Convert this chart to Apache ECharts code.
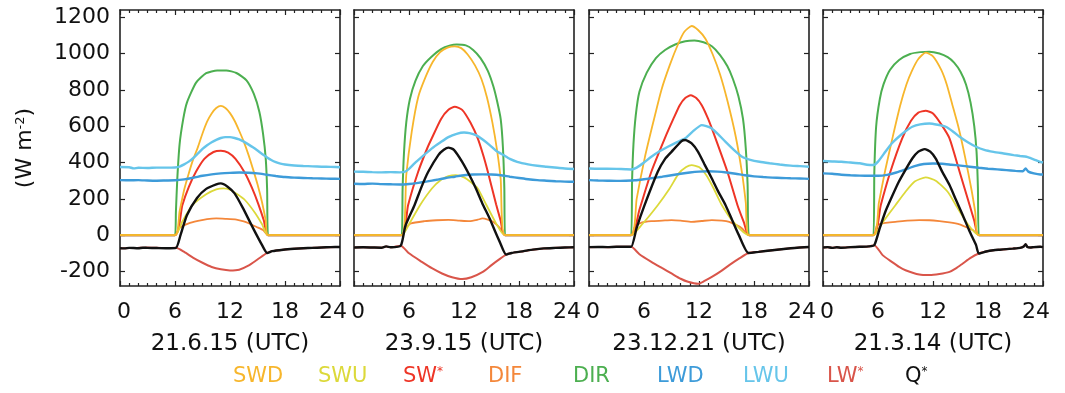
<!DOCTYPE html>
<html>
<head>
<meta charset="utf-8">
<script src="https://cdn.jsdelivr.net/npm/echarts@6/dist/echarts.min.js"></script>
<style>
  html, body { margin: 0; background: #fff; }
  #chart { width: 1065px; height: 393px; }
</style>
</head>
<body>
<div id="chart"></div>
<script>
// values, [hour UTC, W m-2]
const panelTitles = ["21.6.15 (UTC)", "23.9.15 (UTC)", "23.12.21 (UTC)", "21.3.14 (UTC)"];
const seriesNames = ["SWD", "SWU", "SW*", "DIF", "DIR", "LWD", "LWU", "LW*", "Q*"];
const yTicks = [-200, 0, 200, 400, 600, 800, 1000, 1200];

// 21.6.15
const swd1 = [[0,0],[6.0,0],[6.5,130],[7.0,250],[7.5,340],[8.0,420],[8.5,485],[9.0,560],[9.5,625],[10.0,670],[10.5,700],[11.0,712],[11.5,700],[12.0,672],[12.5,630],[13.0,575],[13.5,515],[14.0,445],[14.5,365],[15.0,280],[15.5,180],[15.9,80],[16.15,0],[24,0]];
const swu1 = [[0,0],[6.0,0],[6.8,75],[7.9,165],[9.4,225],[10.5,252],[11.3,258],[12,250],[12.8,225],[13.6,195],[14.7,125],[15.5,60],[16.15,0],[24,0]];
const sw1 = [[0,0],[6.0,0],[6.8,165],[7.5,265],[8.3,350],[9.2,420],[10.2,458],[11.0,465],[11.8,455],[12.6,420],[13.6,345],[14.4,260],[15.1,170],[15.7,80],[16.15,0],[24,0]];
const dif1 = [[0,0],[6.0,0],[6.5,40],[7.5,65],[8.5,78],[9.5,88],[10.5,92],[11.5,90],[12.7,86],[13.5,76],[14.1,64],[14.9,45],[15.6,28],[16.15,0],[24,0]];
const dir1 = [[0,0],[6.0,0],[6.1,130],[6.25,310],[6.5,500],[6.9,640],[7.3,730],[8.3,840],[9.4,892],[10.6,907],[11.6,907],[12.7,893],[13.8,853],[14.6,778],[15.2,680],[15.6,560],[15.9,420],[16.05,250],[16.15,0],[24,0]];
const lwd1 = [[0,303],[1,302],[2,303],[3,301],[4,300],[5,301],[6,302],[7,307],[8,316],[9,327],[10,335],[11,340],[12,343],[13,345],[14,344],[15,340],[16,333],[17,326],[18,320],[19,317],[20,315],[21,313],[22,312],[23,311],[24,310]];
const lwu1 = [[0,375],[1,374],[1.5,368],[2,371],[3,370],[4,372],[5,372],[6,373],[6.5,378],[7,390],[7.5,405],[8,425],[8.5,450],[9,475],[9.5,495],[10,512],[10.5,525],[11,535],[11.5,540],[12,540],[12.5,535],[13,527],[13.5,515],[14,500],[14.5,484],[15,466],[15.5,447],[16,430],[16.5,414],[17,402],[17.5,394],[18,389],[19,384],[20,381],[21,379],[22,377],[23,376],[24,374]];
const lws1 = [[0,-72],[1,-71],[2,-70],[3,-68],[4,-70],[5,-71],[6.1,-70],[7,-92],[8,-125],[9,-152],[10,-175],[11,-188],[12,-194],[13,-190],[14,-168],[15,-134],[16.05,-98],[16.6,-88],[17.8,-80],[19,-75],[20,-72],[21,-70],[22,-68],[23,-66],[24,-65]];
const qs1 = [[0,-72],[0.5,-73],[1,-70],[2,-72],[2.5,-69],[3,-70],[4,-71],[5,-72],[6.1,-70],[6.6,0],[7.3,110],[8.4,205],[9.4,255],[10.5,280],[11.0,285],[11.7,268],[12.5,230],[13.4,150],[14.5,40],[15.5,-55],[16.05,-98],[16.6,-88],[17.8,-80],[19,-75],[20,-72],[21,-70],[22,-68],[23,-66],[24,-65]];

// 23.9.15
const swd2 = [[0,0],[5.2,0],[5.7,330],[6.3,570],[7.0,760],[7.8,870],[8.6,955],[9.4,1008],[10.2,1033],[11.0,1040],[11.7,1030],[12.4,995],[13.2,935],[13.9,860],[14.5,760],[15.1,620],[15.6,470],[16.0,310],[16.45,0],[24,0]];
const swu2 = [[0,0],[5.2,0],[6.0,60],[7.2,165],[8.5,257],[9.5,305],[10.3,325],[11.1,331],[12,318],[12.8,290],[13.5,257],[14.4,170],[15.5,65],[16.45,0],[24,0]];
const sw2 = [[0,0],[5.2,0],[5.9,165],[7.0,349],[8.0,480],[8.5,535],[9.5,640],[10.3,690],[11.0,707],[11.8,690],[12.7,620],[13.5,533],[14.1,440],[14.6,349],[15.5,170],[16.0,80],[16.45,0],[24,0]];
const dif2 = [[0,0],[5.2,0],[5.6,35],[6.2,64],[7.7,77],[9,82],[10.3,84],[11.5,80],[12.6,77],[13.5,85],[14.0,92],[14.6,85],[15.2,72],[15.9,40],[16.45,0],[24,0]];
const dir2 = [[0,0],[5.2,0],[5.3,250],[5.45,450],[5.7,620],[6.1,750],[6.7,850],[7.5,930],[8.4,980],[9.5,1025],[10.5,1045],[11.2,1050],[12.2,1045],[13.0,1020],[13.8,975],[14.6,905],[15.2,820],[15.6,740],[16.0,640],[16.25,480],[16.4,260],[16.48,0],[24,0]];
const lwd2 = [[0,283],[1,282],[2,284],[3,281],[4,280],[5,279],[6,282],[7,288],[8,296],[9,305],[10,315],[11,322],[12,330],[13,334],[14,335],[15,334],[16,330],[17,322],[18,315],[19,308],[20,303],[21,300],[22,297],[23,295],[24,294]];
const lwu2 = [[0,350],[1,349],[2,347],[3,346],[4,347],[5,346],[5.5,348],[6,365],[6.6,395],[7.5,435],[8.5,478],[9.4,510],[10.3,540],[11.2,558],[12,565],[12.6,562],[13.3,551],[14,528],[14.8,496],[15.5,465],[16.3,441],[17,420],[17.8,404],[19,390],[20,382],[21,377],[22.2,371],[23,367],[24,364]];
const lws2 = [[0,-68],[1,-67],[2,-68],[3,-69],[3.5,-62],[4,-67],[5.1,-58],[6,-100],[7.4,-147],[8.5,-182],[9.6,-211],[10.7,-232],[11.8,-242],[12.8,-232],[14.0,-204],[15.0,-165],[15.8,-135],[16.6,-107],[17.2,-98],[18.5,-88],[19.5,-80],[20.7,-73],[22,-70],[23,-68],[24,-67]];
const qs2 = [[0,-68],[1,-67],[2,-68],[3,-69],[3.5,-62],[4,-67],[5.1,-58],[5.6,50],[6.6,165],[7.4,270],[8.1,349],[9.2,441],[9.8,470],[10.3,482],[10.9,470],[11.8,404],[12.6,330],[13.3,257],[14.0,175],[14.8,92],[15.4,20],[15.9,-37],[16.6,-107],[17.2,-98],[18.5,-88],[19.5,-80],[20.7,-73],[22,-70],[23,-68],[24,-67]];

// 23.12.21
const swd3 = [[0,0],[4.6,0],[5.2,200],[6.1,430],[7,620],[7.9,800],[8.8,935],[9.7,1050],[10.4,1120],[11.2,1152],[11.9,1130],[12.7,1082],[13.5,995],[14.3,885],[15.1,740],[16,545],[16.7,340],[17.1,180],[17.45,0],[24,0]];
const swu3 = [[0,0],[4.6,0],[5.8,60],[7.5,165],[8.8,257],[9.8,340],[10.6,375],[11.2,386],[12,375],[12.8,330],[13.6,257],[14.5,165],[15.8,70],[17.45,0],[24,0]];
const sw3 = [[0,0],[4.6,0],[5.5,140],[6.8,349],[8.27,533],[9.2,640],[9.9,716],[10.5,755],[11.1,770],[11.7,755],[12.3,716],[13,640],[13.8,533],[15.1,349],[16.2,165],[16.9,70],[17.45,0],[24,0]];
const dif3 = [[0,0],[4.6,0],[5.0,46],[5.8,70],[6.8,77],[8,80],[9,83],[10,80],[11.2,73],[12.3,78],[13.4,83],[14.5,80],[15.3,73],[16.1,55],[16.7,37],[17.45,0],[24,0]];
const dir3 = [[0,0],[4.6,0],[4.7,300],[4.85,500],[5.1,660],[5.5,790],[6.3,895],[7.3,975],[8.3,1020],[9.4,1050],[10.5,1068],[11.5,1072],[12.5,1062],[13.4,1040],[14.3,992],[15.1,930],[15.7,860],[16.3,765],[16.8,640],[17.1,480],[17.3,280],[17.45,0],[24,0]];
const lwd3 = [[0,303],[1,301],[2,300],[3,299],[4,300],[5,302],[6,308],[7,315],[8,322],[9,330],[10,338],[11,345],[12,350],[13,352],[14,350],[15,345],[16,338],[17,330],[18,324],[19,320],[20,317],[21,315],[22,313],[23,312],[24,310]];
const lwu3 = [[0,367],[1,366],[2,366],[3,365],[4,363],[4.6,362],[5.2,372],[6,400],[6.8,432],[7.7,462],[8.6,487],[9.5,510],[10.5,533],[11.3,570],[12.3,606],[12.8,600],[13.4,588],[14.1,555],[14.9,514],[15.8,470],[16.7,432],[17.6,415],[18.6,404],[19.7,396],[20.8,389],[22,383],[23,380],[24,377]];
const lws3 = [[0,-66],[1,-65],[2,-66],[3,-64],[4,-64],[4.6,-64],[5.5,-105],[6.8,-147],[8,-182],[9,-211],[10,-240],[10.8,-257],[11.9,-268],[12.6,-252],[13.4,-230],[14.4,-198],[15.3,-165],[16.4,-128],[17.4,-98],[18.5,-92],[20,-83],[22,-72],[23,-68],[24,-65]];
const qs3 = [[0,-66],[1,-65],[2,-66],[3,-64],[4,-64],[4.6,-64],[5.2,40],[6.06,165],[7.5,349],[8.3,420],[9,459],[10.1,518],[10.5,524],[11.2,505],[11.9,459],[12.6,390],[13.4,312],[14.1,240],[14.9,165],[15.6,85],[16.35,0],[17.4,-98],[18.5,-92],[20,-83],[22,-72],[23,-68],[24,-65]];

// 21.3.14
const swd4 = [[0,0],[5.5,0],[6.1,180],[6.8,360],[7.6,540],[8.4,710],[9.1,830],[9.7,905],[10.4,970],[11.2,1005],[12,985],[12.9,910],[13.5,830],[14.1,720],[14.8,590],[15.5,430],[16.2,250],[16.6,130],[17.0,0],[24,0]];
const swu4 = [[0,0],[5.5,0],[6.5,70],[7.9,165],[9,239],[10,295],[11.2,318],[12.3,300],[13.6,239],[14.5,165],[15.8,60],[17.0,0],[24,0]];
const sw4 = [[0,0],[5.5,0],[6.3,165],[7.35,349],[8.64,533],[9.6,630],[10.4,675],[11.2,685],[12,670],[12.9,610],[13.8,533],[14.9,349],[16.0,165],[16.5,80],[17.0,0],[24,0]];
const dif4 = [[0,0],[5.5,0],[5.9,55],[6.8,68],[7.9,73],[9.2,80],[10.5,83],[11.6,82],[12.7,77],[13.8,70],[14.9,59],[15.7,42],[16.35,28],[17.0,0],[24,0]];
const dir4 = [[0,0],[5.5,0],[5.6,350],[5.8,600],[6.2,750],[6.6,830],[7.3,910],[8.3,965],[9.5,998],[10.6,1008],[11.6,1010],[12.7,1000],[13.6,980],[14.3,950],[15,900],[15.6,830],[16.1,730],[16.5,600],[16.75,460],[16.9,260],[17.0,0],[24,0]];
const lwd4 = [[0,340],[1,338],[2,333],[3,330],[4,328],[5,327],[6,327],[7,332],[8,345],[9,362],[10,380],[11,392],[12,395],[13,393],[14,388],[15,383],[16,377],[17,371],[18,366],[19,362],[20,358],[21,354],[21.8,352],[22.1,367],[22.4,350],[23,340],[23.7,334],[24,334]];
const lwu4 = [[0,408],[1,406],[2,404],[3,400],[4,396],[4.8,388],[5.5,386],[6,405],[6.8,459],[7.5,505],[8.27,542],[9,572],[9.74,597],[10.6,610],[11.6,615],[12.5,608],[13.4,597],[14.2,570],[14.9,542],[15.8,512],[16.7,487],[17.6,470],[18.6,459],[19.7,450],[20.8,441],[21.5,436],[22.2,432],[22.6,425],[23.2,413],[23.7,404],[24,400]];
const lws4 = [[0,-68],[0.5,-66],[1,-70],[1.5,-67],[2,-69],[3,-66],[4,-64],[5,-62],[5.6,-55],[6.5,-110],[7.5,-147],[8.3,-175],[9,-193],[10.5,-217],[11.6,-220],[12.7,-214],[13.8,-202],[14.5,-183],[15.25,-156],[16.1,-125],[17,-101],[17.8,-90],[18.6,-83],[19.3,-80],[20,-77],[20.7,-74],[21.5,-70],[21.9,-62],[22.1,-50],[22.3,-65],[22.6,-68],[23,-66],[23.7,-64],[24,-66]];
const qs4 = [[0,-68],[0.5,-66],[1,-70],[1.5,-67],[2,-69],[3,-66],[4,-64],[5,-62],[5.6,-55],[6.2,40],[6.8,129],[7.5,210],[8.27,294],[9,360],[9.74,422],[10.4,460],[11.1,474],[11.7,460],[12.3,422],[13.0,350],[13.8,276],[14.5,195],[15.25,110],[16,20],[16.7,-55],[17,-101],[17.8,-90],[18.6,-83],[19.3,-80],[20,-77],[20.7,-74],[21.5,-70],[21.9,-62],[22.1,-50],[22.3,-65],[22.6,-68],[23,-66],[23.7,-64],[24,-66]];

const panels = [
  [swd1, swu1, sw1, dif1, dir1, lwd1, lwu1, lws1, qs1],
  [swd2, swu2, sw2, dif2, dir2, lwd2, lwu2, lws2, qs2],
  [swd3, swu3, sw3, dif3, dir3, lwd3, lwu3, lws3, qs3],
  [swd4, swu4, sw4, dif4, dir4, lwd4, lwu4, lws4, qs4],
];

const colors = ["#f7b62c", "#dcd93a", "#ee3526", "#f4873a", "#4caf50", "#3d9bd9", "#66c5ea", "#d9554a", "#111111"];
const widths = [1.8, 1.8, 2, 1.8, 2, 2.4, 2.4, 2, 2.4];
// draw order: green first so the orange/yellow zero line sits on top
const drawOrder = [4, 3, 2, 1, 0, 5, 6, 7, 8];
// left edge of each legend entry
const legendLeft = [228, 313, 398, 483, 568, 652, 738, 822, 900];

const font = "DejaVu Sans";
const gridLeft = [120, 354, 589, 823];
const gridW = 220;

const myChart = echarts.init(document.getElementById("chart"));

const grid = [], xAxis = [], yAxis = [], series = [];
const tickLine = { color: "#222", width: 1.2 };
const frameLine = { color: "#222", width: 1.6 };
const labelFont = { fontSize: 22, color: "#111", fontFamily: font };

panels.forEach((panel, k) => {
  grid.push({ left: gridLeft[k], top: 10, width: gridW, height: 276 });
  xAxis.push({
    type: "value", gridIndex: k, min: 0, max: 24, interval: 6, position: "bottom",
    axisLine: { show: true, onZero: false, lineStyle: frameLine },
    axisTick: { show: true, inside: true, length: 5, lineStyle: tickLine },
    minorTick: { show: true, splitNumber: 6, length: 3, lineStyle: tickLine },
    splitLine: { show: false },
    axisLabel: {
      ...labelFont, margin: 15,
      // IDL style: "24" and the next panel's "0" run together
      formatter: (v) => (v === 24 ? "{a|24}" : v === 0 ? "{b|0}" : String(v)),
      rich: {
        a: { ...labelFont, padding: [0, 14, 0, 0] },
        b: { ...labelFont, padding: [0, 0, 0, 8] },
      },
    },
    name: panelTitles[k], nameLocation: "middle", nameGap: 47,
    nameTextStyle: { fontSize: 23, color: "#111", fontFamily: font },
  });
  xAxis.push({
    type: "value", gridIndex: k, min: 0, max: 24, interval: 6, position: "top",
    axisLine: { show: true, onZero: false, lineStyle: frameLine },
    axisTick: { show: true, inside: true, length: 5, lineStyle: tickLine },
    minorTick: { show: true, splitNumber: 6, length: 3, lineStyle: tickLine },
    splitLine: { show: false },
    axisLabel: { show: false },
  });
  yAxis.push({
    type: "value", gridIndex: k, min: -280, max: 1240, position: "left",
    axisLine: { show: true, onZero: false, lineStyle: frameLine },
    axisTick: { show: true, inside: true, length: 5, lineStyle: tickLine, customValues: yTicks },
    splitLine: { show: false },
    axisLabel: { show: k === 0, customValues: yTicks, ...labelFont, margin: 10, formatter: (v) => String(v) },
    name: k === 0 ? "(W m{sup|-2})" : "", nameLocation: "middle", nameRotate: 90, nameGap: 84,
    nameTextStyle: {
      fontSize: 22, color: "#111", fontFamily: font,
      rich: { sup: { fontSize: 13, color: "#111", fontFamily: font, verticalAlign: "top" } },
    },
  });
  yAxis.push({
    type: "value", gridIndex: k, min: -280, max: 1240, position: "right",
    axisLine: { show: true, onZero: false, lineStyle: frameLine },
    axisTick: { show: true, inside: true, length: 5, lineStyle: tickLine, customValues: yTicks },
    splitLine: { show: false },
    axisLabel: { show: false },
  });
  drawOrder.forEach((i, z) => {
    series.push({
      type: "line", name: seriesNames[i], xAxisIndex: 2 * k, yAxisIndex: 2 * k,
      data: panel[i], showSymbol: false, symbol: "none", smooth: 0.2,
      lineStyle: { color: colors[i], width: widths[i] },
      itemStyle: { color: colors[i] }, z: 2 + z,
    });
  });
});

const legend = seriesNames.map((n, i) => ({
  left: legendLeft[i], top: 366, padding: 0, selectedMode: false,
  itemWidth: 0, itemHeight: 0,
  data: [{ name: n, icon: "rect" }],
  formatter: (s) => s.replace("*", "{sup|*}"),
  textStyle: {
    fontSize: 21, fontFamily: font, color: colors[i],
    rich: { sup: { fontSize: 12, color: colors[i], fontFamily: font, verticalAlign: "top" } },
  },
}));

myChart.setOption({ animation: false, grid, xAxis, yAxis, series, legend });
</script>
</body>
</html>
